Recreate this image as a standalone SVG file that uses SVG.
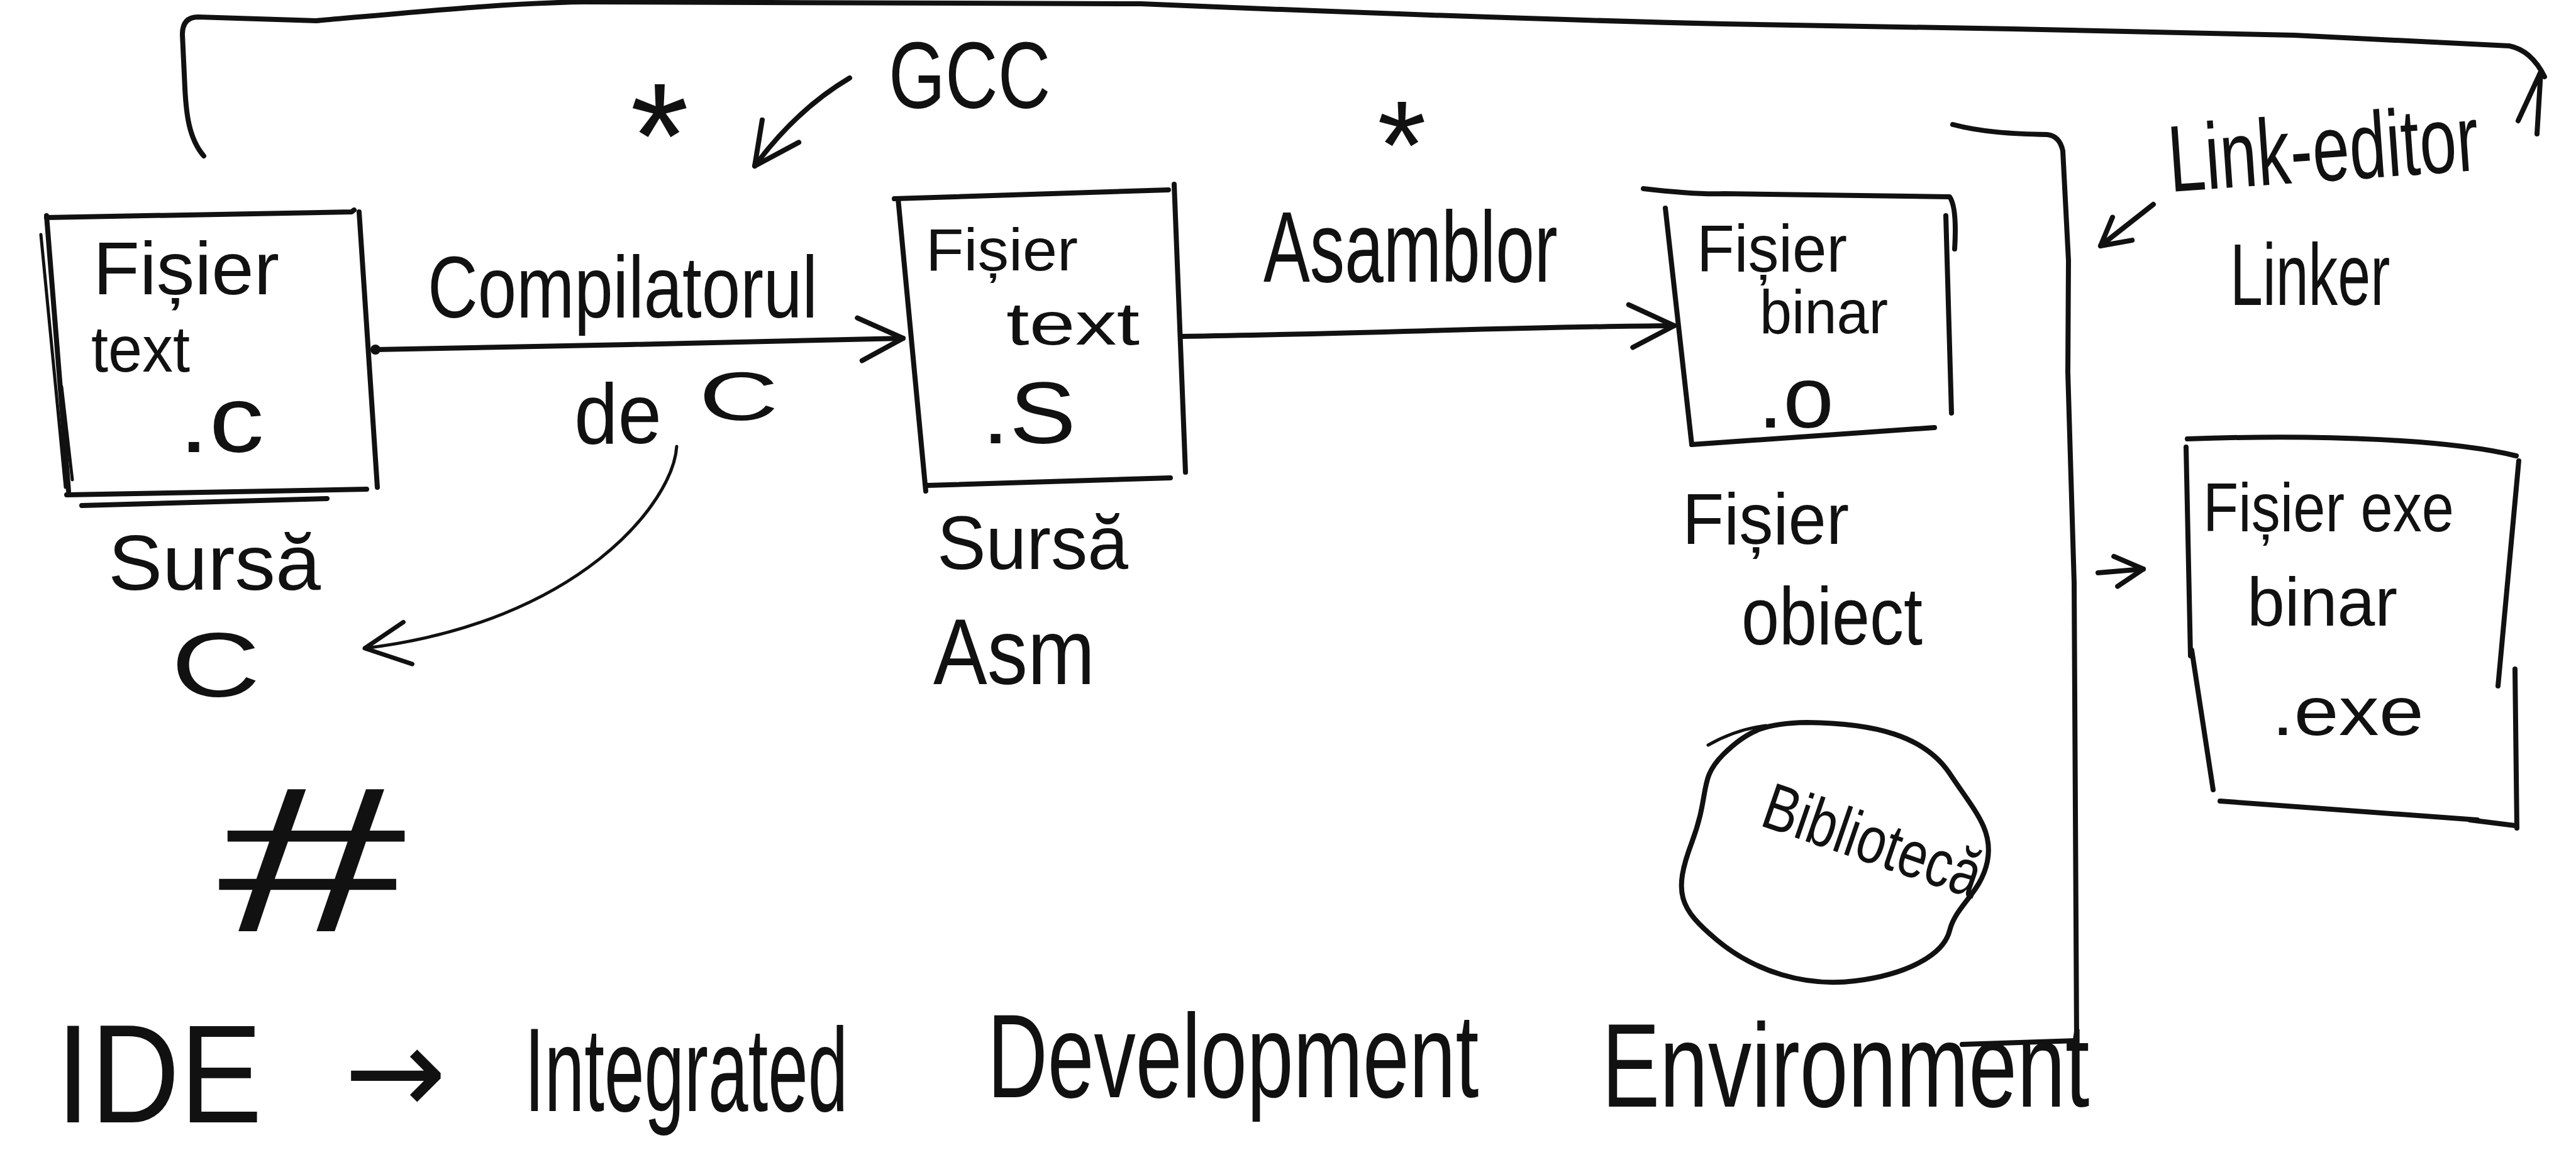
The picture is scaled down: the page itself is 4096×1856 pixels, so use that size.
<svg xmlns="http://www.w3.org/2000/svg" width="4096" height="1856" viewBox="0 0 4096 1856">
<style>
.ln{fill:none;stroke:#111;stroke-width:8;stroke-linecap:round;stroke-linejoin:round}
.th{fill:none;stroke:#111;stroke-width:5;stroke-linecap:round;stroke-linejoin:round}
.t{font-family:"Liberation Sans","DejaVu Sans",sans-serif;fill:#111}
</style>
<defs>
<marker id="arr" viewBox="0 0 90 80" refX="84" refY="40" markerWidth="90" markerHeight="80" markerUnits="userSpaceOnUse" orient="auto">
<path d="M12,6 L84,40 L18,74" fill="none" stroke="#111" stroke-width="8" stroke-linecap="round" stroke-linejoin="round"/>
</marker>
<marker id="arr-thin" viewBox="0 0 90 80" refX="84" refY="40" markerWidth="90" markerHeight="80" markerUnits="userSpaceOnUse" orient="auto">
<path d="M12,6 L84,40 L18,74" fill="none" stroke="#111" stroke-width="7" stroke-linecap="round" stroke-linejoin="round"/>
</marker>
<marker id="arr-small" viewBox="0 0 60 60" refX="55" refY="30" markerWidth="60" markerHeight="60" markerUnits="userSpaceOnUse" orient="auto">
<path d="M10,6 L55,30 L12,54" fill="none" stroke="#111" stroke-width="8" stroke-linecap="round" stroke-linejoin="round"/>
</marker>
</defs>
<rect width="4096" height="1856" fill="#fff"/>

<g id="connectors">
<path class="ln" d="M597,556 L1000,548 L1436,538" marker-end="url(#arr)"/>
<circle cx="597" cy="556" r="8" fill="#111"/>
<path class="ln" d="M1879,535 C2200,530 2400,520 2662,518" marker-end="url(#arr)"/>
<path class="th" d="M1076,710 C1070,800 920,990 580,1031" marker-end="url(#arr-thin)"/>
<path class="ln" d="M1351,124 C1290,160 1240,210 1200,264" marker-end="url(#arr)"/>
<path class="ln" d="M3424,325 L3340,391" marker-end="url(#arr-small)"/>
<path class="ln" d="M3336,911 L3408,905" marker-end="url(#arr-small)"/>
<path class="ln" d="M324,248 C300,220 296,180 294,140 L290,55 Q290,27 315,27 L503,33 C650,20 800,5 927,3 L1814,6 C2100,18 2400,30 2741,38 L3200,46 L3648,56 L3990,73 Q4025,80 4046,122"/>
<path class="ln" d="M4004,192 L4040,114 L4034,213"/>
</g>

<g id="node-fisier-c">
<path class="ln" d="M74,346 L559,337 L563,334"/>
<path class="ln" d="M74,343 L109,781"/>
<path class="th" d="M65,373 L104,775"/>
<path class="th" d="M98,615 L115,763"/>
<path class="ln" d="M571,337 L600,775"/>
<path class="ln" d="M106,787 L583,778"/>
<path class="ln" d="M130,804 L520,793"/>
<text class="t" x="148" y="468" font-size="118" textLength="296" lengthAdjust="spacingAndGlyphs">Fișier</text>
<text class="t" x="145" y="591" font-size="104" textLength="157" lengthAdjust="spacingAndGlyphs">text</text>
<text class="t" x="284" y="719" font-size="150" textLength="136" lengthAdjust="spacingAndGlyphs">.c</text>
</g>
<g id="label-sursa-c">
<text class="t" x="172" y="938" font-size="125" textLength="338" lengthAdjust="spacingAndGlyphs">Sursă</text>
<text class="t" x="272" y="1108" font-size="145" textLength="142" lengthAdjust="spacingAndGlyphs">C</text>
</g>
<g id="label-compilator">
<text class="t" x="680" y="505" font-size="140" transform="matrix(0.789 0 0 1 143.5 0)">Compilatorul</text>
<text class="t"><tspan x="913" y="705" font-size="135" textLength="139" lengthAdjust="spacingAndGlyphs">de</tspan> <tspan x="1111" y="668" font-size="110" textLength="127" lengthAdjust="spacingAndGlyphs">C</tspan></text>
</g>
<g id="label-gcc">
<text class="t" x="1413" y="172" font-size="150" transform="matrix(0.772 0 0 1 322.2 0)">GCC</text>
</g>
<g id="star-1">
<text class="t" x="1002" y="299" font-size="240">*</text>
</g>

<g id="node-fisier-s">
<path class="ln" d="M1428,316 L1472,781"/>
<path class="ln" d="M1422,316 L1858,302"/>
<path class="ln" d="M1867,293 L1885,751"/>
<path class="ln" d="M1475,772 L1861,760"/>
<text class="t" x="1472" y="430" font-size="95" textLength="242" lengthAdjust="spacingAndGlyphs">Fișier</text>
<text class="t" x="1600" y="548" font-size="96" textLength="212" lengthAdjust="spacingAndGlyphs">text</text>
<text class="t" x="1561" y="705" font-size="140" textLength="150" lengthAdjust="spacingAndGlyphs">.S</text>
</g>
<g id="label-sursa-asm">
<text class="t" x="1490" y="905" font-size="120" textLength="304" lengthAdjust="spacingAndGlyphs">Sursă</text>
<text class="t" x="1484" y="1088" font-size="148" transform="matrix(0.868 0 0 1 195.9 0)">Asm</text>
</g>
<g id="label-asamblor">
<text class="t" x="2009" y="448" font-size="160" transform="matrix(0.692 0 0 1 618.8 0)">Asamblor</text>
</g>
<g id="star-2">
<text class="t" x="2190" y="300" font-size="200">*</text>
</g>

<g id="node-fisier-o">
<path class="ln" d="M2613,300 Q2700,310 2741,308 L3100,313 Q3112,330 3108,396"/>
<path class="ln" d="M2648,331 L2690,707"/>
<path class="ln" d="M2690,707 L3076,680"/>
<path class="ln" d="M3094,343 L3103,657"/>
<text class="t" x="2698" y="432" font-size="105" textLength="239" lengthAdjust="spacingAndGlyphs">Fișier</text>
<text class="t" x="2798" y="530" font-size="98" textLength="204" lengthAdjust="spacingAndGlyphs">binar</text>
<text class="t" x="2795" y="680" font-size="140" textLength="121" lengthAdjust="spacingAndGlyphs">.o</text>
</g>
<g id="label-fisier-obiect">
<text class="t" x="2675" y="865" font-size="115" textLength="265" lengthAdjust="spacingAndGlyphs">Fișier</text>
<text class="t" x="2769" y="1025" font-size="130" transform="matrix(0.83 0 0 1 470.7 0)">obiect</text>
</g>

<g id="node-biblioteca">
<path class="ln" d="M2873,1149 C2980,1150 3060,1170 3100,1230 S3170,1320 3160,1370 S3110,1440 3100,1480 S3030,1550 2950,1560 S2790,1545 2730,1495 S2660,1420 2690,1340 S2700,1240 2740,1200 S2810,1150 2873,1149 Z"/>
<path class="th" d="M2716,1185 Q2760,1160 2808,1154"/>
<text class="t" x="2796" y="1312" font-size="105" transform="rotate(19 2796 1312) matrix(0.791 0 0 1 584.4 0)">Bibliotecă</text>
</g>

<g id="linker-bracket">
<path class="ln" d="M3105,198 C3150,210 3200,213 3255,214 Q3275,216 3280,240 L3289,414 L3288,592 L3298,927 L3302,1655"/>
<path class="ln" d="M3120,1661 L3302,1655"/>
</g>
<g id="label-linker">
<text class="t" x="3451" y="305" font-size="150" transform="rotate(-4 3451 305) matrix(0.706 0 0 1 1014.6 0)">Link-editor</text>
<text class="t" x="3546" y="485" font-size="140" transform="matrix(0.667 0 0 1 1180.8 0)">Linker</text>
</g>

<g id="node-fisier-exe">
<path class="ln" d="M3478,698 C3700,690 3900,700 4001,725"/>
<path class="ln" d="M3476,711 L3483,1043"/>
<path class="ln" d="M3485,1034 L3519,1256"/>
<path class="ln" d="M3530,1274 L3939,1304"/>
<path class="ln" d="M4005,733 L3972,1091"/>
<path class="ln" d="M3999,1064 L4002,1317"/>
<path class="ln" d="M3927,1304 L3999,1313"/>
<text class="t" x="3503" y="845" font-size="110" transform="matrix(0.837 0 0 1 571 0)">Fișier exe</text>
<text class="t" x="3573" y="995" font-size="110" textLength="239" lengthAdjust="spacingAndGlyphs">binar</text>
<text class="t" x="3612" y="1169" font-size="110" textLength="242" lengthAdjust="spacingAndGlyphs">.exe</text>
</g>

<g id="label-hash">
<text class="t" x="346" y="1481" font-size="330" textLength="300" lengthAdjust="spacingAndGlyphs">#</text>
</g>
<g id="label-ide">
<text class="t" x="89" y="1785" font-size="222" textLength="328" lengthAdjust="spacingAndGlyphs">IDE</text>
<text x="547" y="1772" font-family="DejaVu Sans, sans-serif" fill="#111" font-size="195" textLength="163" lengthAdjust="spacingAndGlyphs">→</text>
<text class="t" x="834" y="1767" font-size="190" transform="matrix(0.601 0 0 1 332.8 0)">Integrated</text>
<text class="t" x="1570" y="1745" font-size="190" transform="matrix(0.698 0 0 1 474.1 0)">Development</text>
<text class="t" x="2547" y="1760" font-size="190" transform="matrix(0.727 0 0 1 695.3 0)">Environment</text>
</g>
</svg>
